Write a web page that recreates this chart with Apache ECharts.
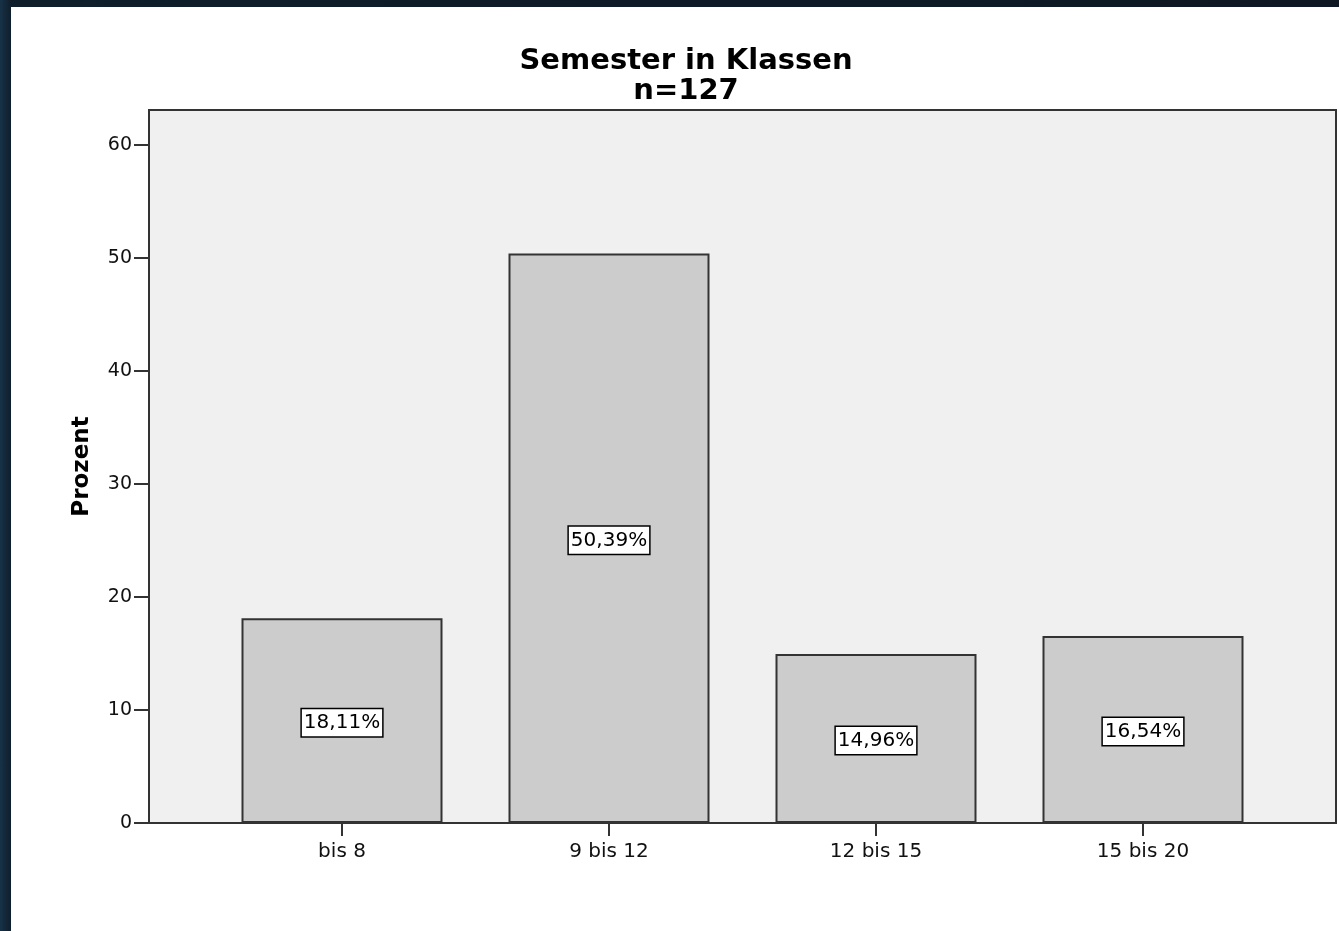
<!DOCTYPE html>
<html>
<head>
<meta charset="utf-8">
<script src="https://cdn.jsdelivr.net/npm/echarts@6/dist/echarts.min.js"></script>
<style>
html,body{margin:0;padding:0;background:#0f1e2b;}
#chart{width:1339px;height:931px;background:linear-gradient(90deg,#173247 0,#0f1e2b 11px,#0d1822 100%);}
</style>
</head>
<body>
<div id="chart"></div>
<script>
const categories = ['bis 8', '9 bis 12', '12 bis 15', '15 bis 20'];
const percentValues = [18.11, 50.39, 14.96, 16.54];
const yTickMax = 60;
const yTickInterval = 10;
const yAxisMax = 63.1;

const FONT = 'DejaVu Sans';
const chart = echarts.init(document.getElementById('chart'), null, {renderer: 'canvas'});
const option = {
  backgroundColor: 'transparent',
  animation: false,
  graphic: [{
    type: 'rect', z: -100, silent: true,
    shape: {x: 11, y: 7, width: 1328, height: 924},
    style: {fill: '#ffffff'}
  }],
  title: {
    text: 'Semester in Klassen\nn=127',
    left: 686, top: 46, padding: 0,
    textAlign: 'center',
    textStyle: {fontFamily: FONT, fontWeight: 'bold', fontSize: 29, lineHeight: 30, color: '#000'}
  },
  grid: [
    {left: 149, right: 3, top: 110, bottom: 108, show: true, backgroundColor: '#f0f0f0', borderColor: '#333', borderWidth: 2, z: 0},
    {left: 208.5, right: 62.5, top: 110, bottom: 108, z: 2},
    {left: 149, right: 3, top: 145, bottom: 108, z: 3}
  ],
  xAxis: [
    {gridIndex: 0, type: 'value', show: false, min: 0, max: 1},
    {gridIndex: 1, type: 'category', data: categories, boundaryGap: true,
      axisLine: {show: false},
      axisTick: {show: true, alignWithLabel: true, length: 13, lineStyle: {color: '#333', width: 2}},
      axisLabel: {margin: 19, fontFamily: FONT, fontSize: 20, color: '#111'}
    },
    {gridIndex: 2, type: 'value', show: false, min: 0, max: 1}
  ],
  yAxis: [
    {gridIndex: 0, type: 'value', min: 0, max: yAxisMax,
      name: 'Prozent', nameLocation: 'middle', nameRotate: 90, nameGap: 55,
      nameTextStyle: {fontFamily: FONT, fontWeight: 'bold', fontSize: 23, color: '#000'},
      axisLine: {show: false}, axisTick: {show: false}, axisLabel: {show: false}, splitLine: {show: false}
    },
    {gridIndex: 1, type: 'value', min: 0, max: yAxisMax, show: false},
    {gridIndex: 2, type: 'value', min: 0, max: yTickMax, interval: yTickInterval,
      axisLine: {show: false},
      axisTick: {show: true, length: 15, lineStyle: {color: '#333', width: 2}},
      axisLabel: {margin: 17, fontFamily: FONT, fontSize: 19, color: '#111'},
      splitLine: {show: false}
    }
  ],
  series: [{
    type: 'bar', xAxisIndex: 1, yAxisIndex: 1,
    data: percentValues, barWidth: 201, z: 5,
    itemStyle: {color: '#cccccc', borderColor: '#333', borderWidth: 2},
    label: {
      show: true, position: 'inside', offset: [0, 2],
      formatter: p => p.value.toFixed(2).replace('.', ',') + '%',
      fontFamily: FONT, fontSize: 20, color: '#000',
      backgroundColor: '#fff', borderColor: '#000', borderWidth: 1.5,
      padding: [4, 2, 3, 2]
    }
  }]
};
chart.setOption(option);
</script>
</body>
</html>
